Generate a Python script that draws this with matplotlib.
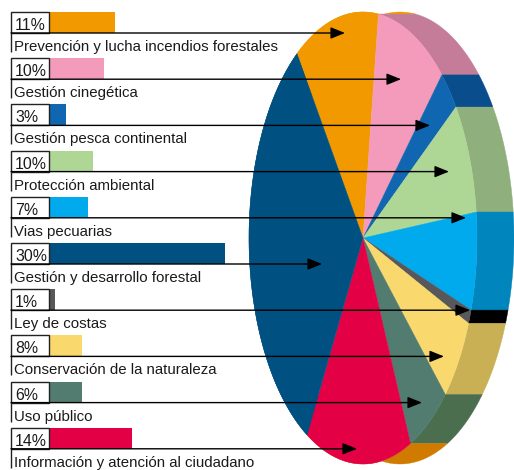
import numpy as np
import matplotlib
matplotlib.use("Agg")
import matplotlib.pyplot as plt
from matplotlib.patches import FancyArrowPatch, Polygon, Rectangle

plt.rcParams["font.family"] = ["Liberation Sans Narrow", "Liberation Sans", "DejaVu Sans"]

names = ["Prevención y lucha incendios forestales", "Gestión cinegética",
         "Gestión pesca continental", "Protección ambiental", "Vias pecuarias",
         "Gestión y desarrollo forestal", "Ley de costas",
         "Conservación de la naturaleza", "Uso público",
         "Información y atención al ciudadano"]
pct_labels = ["11%", "10%", "3%", "10%", "7%", "30%", "1%", "8%", "6%", "14%"]
# bar lengths and slices agree with each other, not always with the printed label
shares = [12, 10, 3, 8, 7, 32, 1, 6, 6, 15]
face_colors = ["#F29900", "#F49ABB", "#1066B0", "#AED796", "#00AAEC",
               "#005082", "#58585A", "#F9D86E", "#527C70", "#E30045"]
rim_colors = ["#F29900", "#C47C98", "#0A4D8C", "#8FAF7C", "#0085BD",
              "#005082", "#000000", "#C9B055", "#4A6E4E", "#D17A00"]
arrow_tips = [345, 401, 430, 449, 466, 322, 470, 444, 422, 357]
# clockwise order round the pie, the big blue slice comes last
pie_order = [0, 1, 2, 3, 4, 6, 7, 8, 9, 5]

# layout in image pixels
CX, CY, RX, RY = 363, 238, 114, 226
DEPTH = 37
START = 125.4
ROW_TOP = 12
ROW_STEP = 46.2
ROW_H = 21
BAR_X = 49
PX_PER_SHARE = 5.5


def arc(t0, t1, dx=0):
    t = np.radians(np.linspace(t0, t1, 80))
    return np.column_stack([CX + dx + RX * np.cos(t), CY - RY * np.sin(t)])


fig = plt.figure(figsize=(5.14, 4.7), dpi=100)
ax = fig.add_axes([0, 0, 1, 1])
ax.set_xlim(0, 514)
ax.set_ylim(470, 0)
ax.axis("off")

edges = START - np.cumsum([0] + [shares[k] for k in pie_order]) * 3.6

for n, k in enumerate(pie_order):
    front = arc(edges[n], edges[n + 1])
    back = arc(edges[n + 1], edges[n], dx=DEPTH)
    ax.add_patch(Polygon(np.vstack([front, back]), closed=True, fc=rim_colors[k],
                         ec=rim_colors[k], lw=0.3, zorder=1))
for n, k in enumerate(pie_order):
    pts = np.vstack([[CX, CY], arc(edges[n], edges[n + 1])])
    ax.add_patch(Polygon(pts, closed=True, fc=face_colors[k], ec=face_colors[k],
                         lw=0.3, zorder=2))

for i, name in enumerate(names):
    top = ROW_TOP + i * ROW_STEP
    line_y = top + ROW_H
    ax.add_patch(Rectangle((BAR_X, top), shares[i] * PX_PER_SHARE, ROW_H,
                           fc=face_colors[i], ec="none", zorder=3))
    ax.add_patch(Rectangle((11, top), BAR_X - 11, ROW_H, fc="white", ec="#222222",
                           lw=1.0, zorder=4))
    ax.plot([11, 11], [line_y, line_y + 19], color="#222222", lw=1.0, zorder=4,
            solid_capstyle="butt")
    ax.add_patch(FancyArrowPatch((11, line_y), (arrow_tips[i], line_y),
                                 arrowstyle="-|>,head_length=0.62,head_width=0.25",
                                 mutation_scale=14, color="black", lw=1.0,
                                 shrinkA=0, shrinkB=0, zorder=5))
    ax.text(15, top + 18, pct_labels[i], fontsize=11.4, color="#1a1a1a",
            va="baseline", ha="left", zorder=6)
    ax.text(14, line_y + 18, name, fontsize=10.8, color="#1a1a1a",
            va="baseline", ha="left", zorder=6)

fig.savefig("out.png", dpi=100)
